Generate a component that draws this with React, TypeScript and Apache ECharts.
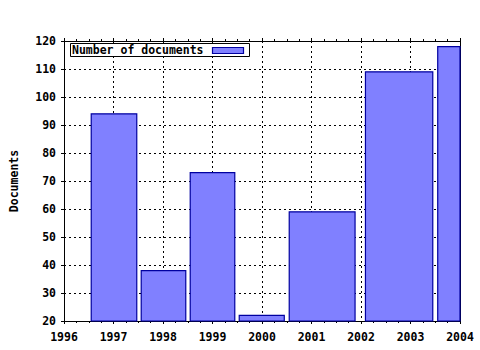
import React, { useEffect, useRef } from "react";
import * as echarts from "echarts";

const years = ["1997", "1998", "1999", "2000", "2001", "2003", "2004"];
const barStart = [1996.55, 1997.56, 1998.55, 1999.54, 2000.55, 2002.09, 2003.55];
const barEnd = [1997.47, 1998.46, 1999.45, 2000.45, 2001.88, 2003.45, 2004.45];
const documents = [94, 38, 73, 22, 59, 109, 118];
const legendLabel = "Number of documents";
const yTitle = "Documents";

const FONT = "'DejaVu Sans Mono', monospace";

export default function App() {
  const ref = useRef<HTMLDivElement>(null);
  useEffect(() => {
    if (!ref.current) return;
    const chart = echarts.init(ref.current, null, { renderer: "svg" });
    const data = years.map((_, i) => [barStart[i], barEnd[i], documents[i]]);
    const labelStyle = { fontFamily: FONT, fontWeight: "bold" as const, fontSize: 11.5, color: "#000" };
    const commonX = {
      type: "value" as const,
      min: 1996,
      max: 2004,
      interval: 1,
      axisLine: { show: true, lineStyle: { color: "#000", width: 1 } },
      axisTick: { show: true, inside: false, length: 3, lineStyle: { color: "#000" } },
      minorTick: { show: true, splitNumber: 4, length: 2, lineStyle: { color: "#000" } },
    };
    const commonY = {
      type: "value" as const,
      min: 20,
      max: 120,
      interval: 10,
      axisLine: { show: true, lineStyle: { color: "#000", width: 1 } },
      axisTick: { show: true, inside: false, length: 3, lineStyle: { color: "#000" } },
    };
    chart.setOption({
      animation: false,
      backgroundColor: "#fff",
      grid: { left: 64, right: 20, top: 41, bottom: 29, containLabel: false },
      xAxis: [
        {
          ...commonX,
          position: "bottom",
          axisLabel: { ...labelStyle, margin: 10, formatter: (v: number) => String(v) },
          splitLine: { show: true, lineStyle: { color: "#000", type: [2, 3], width: 1 } },
        },
        {
          ...commonX,
          position: "top",
          axisLabel: { show: false },
          splitLine: { show: false },
        },
      ],
      yAxis: [
        {
          ...commonY,
          position: "left",
          name: yTitle,
          nameLocation: "middle",
          nameGap: 44,
          nameRotate: 90,
          nameTextStyle: { ...labelStyle },
          axisLabel: { ...labelStyle, margin: 8 },
          splitLine: { show: true, lineStyle: { color: "#000", type: [2, 3], width: 1 } },
        },
        {
          ...commonY,
          position: "right",
          axisLabel: { show: false },
          axisTick: { show: false },
          splitLine: { show: false },
        },
      ],
      series: [
        {
          type: "custom",
          name: legendLabel,
          xAxisIndex: 0,
          yAxisIndex: 0,
          data,
          renderItem: (params: any, api: any) => {
            const p0 = api.coord([api.value(0), api.value(2)]);
            const p1 = api.coord([api.value(1), 20]);
            const rect = echarts.graphic.clipRectByRect(
              { x: p0[0], y: p0[1], width: p1[0] - p0[0], height: p1[1] - p0[1] },
              {
                x: params.coordSys.x,
                y: params.coordSys.y,
                width: params.coordSys.width,
                height: params.coordSys.height,
              }
            );
            if (!rect) return null;
            return {
              type: "rect",
              shape: rect,
              style: { fill: "#8080ff", stroke: "#0000a0", lineWidth: 1.2 },
            };
          },
          z: 2,
        },
      ],
      graphic: [
        {
          type: "rect",
          shape: { x: 70.5, y: 43.5, width: 179, height: 13 },
          style: { fill: "#fff", stroke: "#000", lineWidth: 1 },
          z: 10,
        },
        {
          type: "text",
          x: 72,
          y: 50,
          style: {
            text: legendLabel,
            fontFamily: FONT,
            fontWeight: "bold",
            fontSize: 11.5,
            fill: "#000",
            verticalAlign: "middle",
          },
          z: 11,
        },
        {
          type: "rect",
          shape: { x: 212.5, y: 47.5, width: 31, height: 6 },
          style: { fill: "#8080ff", stroke: "#0000a0", lineWidth: 1.2 },
          z: 11,
        },
      ],
    });
    return () => chart.dispose();
  }, []);
  return <div ref={ref} style={{ width: 480, height: 350, position: "absolute", left: 0, top: 0 }} />;
}
